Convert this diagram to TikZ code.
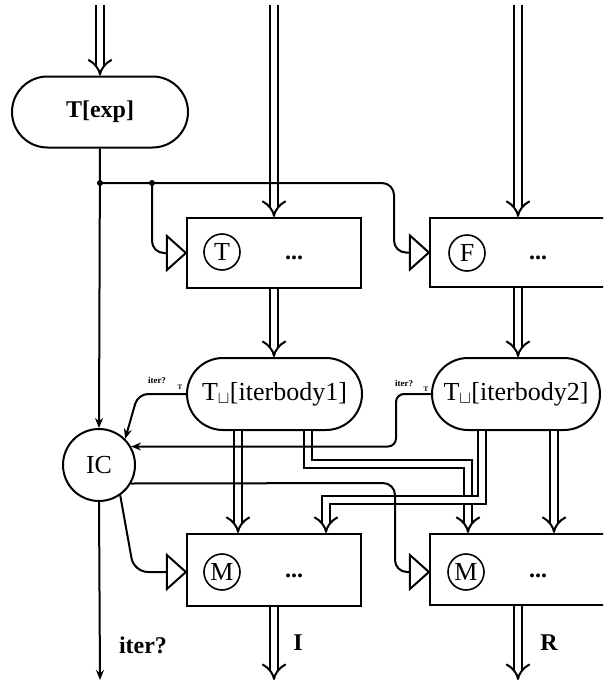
\documentclass[tikz,border=0pt]{standalone}
\usepackage{fontspec}
\setmainfont{Liberation Serif}
\usetikzlibrary{arrows.meta,shapes.misc,calc}
\begin{document}
\begin{tikzpicture}[x=1pt,y=-1pt,
  ln/.style={line width=2pt},
  sarr/.style={line width=2pt,-{Stealth[length=10pt,width=8pt]}},
  dbl/.style={line width=2pt,double distance=6.5pt,-{Implies}},
  pill/.style={rounded rectangle, draw, line width=2pt, inner sep=0pt, fill=white},
  box/.style={rectangle, draw, line width=2.2pt, inner sep=0pt, fill=white},
  port/.style={circle, draw, line width=1.6pt, minimum size=36pt, inner sep=0pt, font=\fontsize{26}{26}\selectfont},
  trig/.style={line width=2pt, fill=white, line join=miter},
  lbl/.style={font=\bfseries\fontsize{24}{24}\selectfont, inner sep=0pt},
  small/.style={font=\bfseries\fontsize{9}{9}\selectfont, inner sep=0pt},
  tiny/.style={font=\bfseries\fontsize{7}{7}\selectfont, inner sep=0pt},
]
\useasboundingbox (0,0) rectangle (603,683);
\clip (0,0) rectangle (603,683);

% coordinates
\coordinate (in1) at (100,5);
\coordinate (in2) at (274,5);
\coordinate (in3) at (518,5);
\coordinate (j1) at (100,183);
\coordinate (j2) at (152,183);
\coordinate (out0) at (100,680);
\coordinate (out1) at (274,680);
\coordinate (out2) at (518,680);
\coordinate (p1) at (238,0);
\coordinate (p2) at (308,0);
\coordinate (p3) at (468,464);
\coordinate (p4) at (482,0);
\coordinate (p5) at (326,500);
\coordinate (p6) at (554,0);

% nodes
\node[pill, minimum width=176pt, minimum height=71pt, font=\bfseries\fontsize{24}{24}\selectfont] (texp) at (100,112) {T[exp]};
\node[box, minimum width=174pt, minimum height=70pt] (boxT) at (274,253) {};
\node[box, minimum width=210pt, minimum height=69pt] (boxF) at (535,252.5) {};
\node[port] (cT) at (222,252) {T};
\node[port] (cF) at (467,253) {F};
\node[lbl] (dT) at (294,258) {...};
\node[lbl] (dF) at (538,258) {...};

\node[pill, minimum width=175pt, minimum height=72pt, font=\fontsize{26}{26}\selectfont] (body1) at (274.5,394) {T$_{\sqcup}$[iterbody1]};
\node[pill, minimum width=168pt, minimum height=72pt, font=\fontsize{26}{26}\selectfont] (body2) at (516,394) {T$_{\sqcup}$[iterbody2]};

\node[circle, draw, line width=2pt, minimum size=72pt, inner sep=0pt, font=\fontsize{26}{26}\selectfont] (IC) at (99,465) {IC};

\node[box, minimum width=174pt, minimum height=72pt] (boxM1) at (274,570) {};
\node[box, minimum width=210pt, minimum height=71pt] (boxM2) at (535,569.5) {};
\node[port] (cM1) at (222,572) {M};
\node[port] (cM2) at (466,572) {M};
\node[lbl] (dM1) at (294,576) {...};
\node[lbl] (dM2) at (538,576) {...};

\node[small] (it1) at (157,380) {iter?};
\node[tiny] (tt1) at (180,387) {T};
\node[small] (it2) at (404,383) {iter?};
\node[tiny] (tt2) at (426,389) {T};

\node[lbl] (lit) at (143,645) {iter?};
\node[lbl] (lI) at (298,643) {I};
\node[lbl] (lR) at (549,643) {R};

% double connectors
\draw[dbl] (in1) -- (texp.north);
\draw[dbl] (in2) -- (boxT.north);
\draw[dbl] (in3) -- (in3 |- boxF.north);
\draw[dbl] (boxT.south) -- (boxT.south |- body1.north);
\draw[dbl] (boxF.south -| in3) -- (in3 |- body2.north);
\draw[dbl] (body1.south -| p1) -- (p1 |- boxM1.north);
\draw[dbl] (body1.south -| p2) |- (p3) -- (p3 |- boxM2.north);
\draw[dbl] (body2.south -| p4) |- (p5) -- (p5 |- boxM1.north);
\draw[dbl] (body2.south -| p6) -- (p6 |- boxM2.north);
\draw[dbl] (boxM1.south) -- (out1);
\draw[dbl] (boxM2.south -| out2) -- (out2);

% single connectors
\draw[sarr] (texp.south) -- (IC.north);
\draw[ln, rounded corners=12pt] (j1) -- (394,183) |- ($(boxF.west)+(-19,0)$) coordinate (gF);
\draw[ln, rounded corners=12pt] (j2) |- ($(boxT.west)+(-19,0)$) coordinate (gT);
\fill (j1) circle (3pt);
\fill (j2) circle (3pt);
\draw[sarr, rounded corners=10pt] (body1.west) -- (138,394) -- (IC.45);
\draw[sarr, rounded corners=8pt] (body2.west) -- (396,394) |- (IC.30);
\draw[ln, rounded corners=14pt] (IC.-55) -- (134,572) -- ($(boxM1.west)+(-19,2)$) coordinate (gM1);
\draw[ln, rounded corners=12pt] (IC.-30) -- (395,483) |- ($(boxM2.west)+(-19,2.5)$) coordinate (gM2);
\draw[sarr] (IC.south) -- (out0);

% trigger triangles
\draw[trig] (boxT.west) -- ++(-19,-17) -- ++(0,34) -- cycle;
\draw[trig] (boxF.west) -- ++(-19,-17) -- ++(0,34) -- cycle;
\draw[trig] ($(boxM1.west)+(0,2)$) -- ++(-19,-17) -- ++(0,34) -- cycle;
\draw[trig] ($(boxM2.west)+(0,2.5)$) -- ++(-19,-17) -- ++(0,34) -- cycle;
\end{tikzpicture}
\end{document}
